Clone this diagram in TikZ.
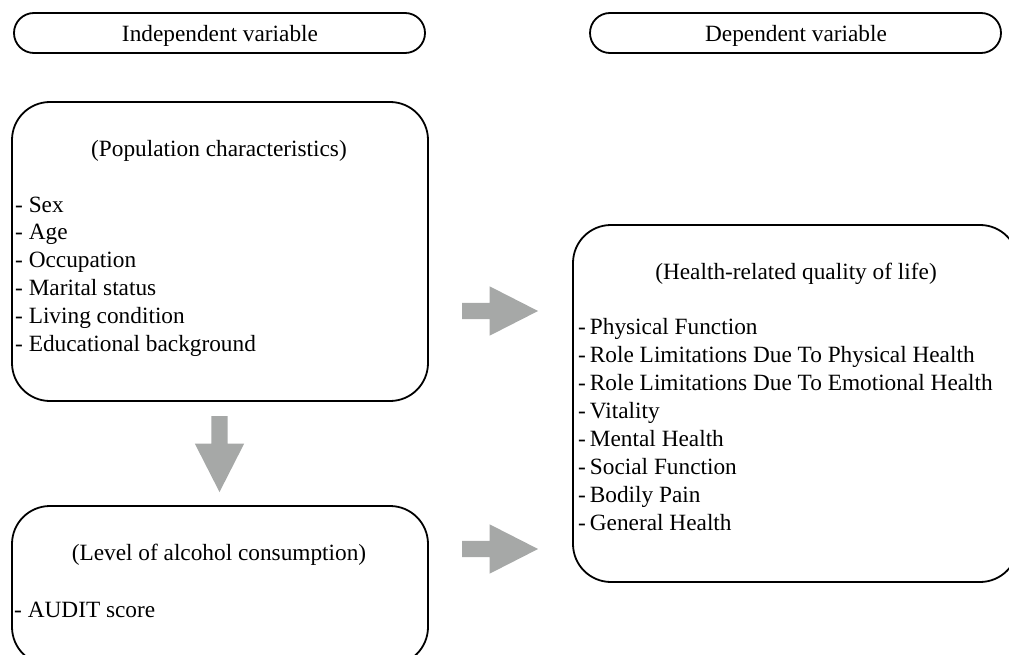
\documentclass[tikz,border=0pt]{standalone}
\usepackage{fontspec}
\setmainfont{Liberation Serif}
\usetikzlibrary{shapes.arrows}
\definecolor{arrowgray}{RGB}{166,168,167}
\tikzset{
	pill/.style={draw, line width=1.8pt, rounded corners=20pt, minimum width=411pt, minimum height=40pt, inner sep=0pt},
	panel/.style={draw, line width=1.8pt, rounded corners=38pt, inner sep=0pt},
	fatarrow/.style={single arrow, fill=arrowgray, inner xsep=0pt, inner ysep=8pt, minimum height=76pt,
		single arrow head extend=16.5pt, single arrow tip angle=54},
	heading/.style={anchor=base, inner sep=0pt},
	listtext/.style={anchor=base west, inner sep=0pt}
}
\begin{document}
\begin{tikzpicture}[x=1pt, y=-1pt, font=\fontsize{23.3}{27.8}\selectfont]
	\useasboundingbox (0,0) rectangle (1009,655);
	\clip (0,0) rectangle (1009,655);
	% headers
	\node[pill] (indep) at (219.5,33) {};
	\node[pill] (dep) at (795.5,33) {};
	\node[heading] (indeptext) at (220,42) {Independent variable};
	\node[heading] (deptext) at (796,42) {Dependent variable};
	% population box
	\node[panel, minimum width=416pt, minimum height=299pt] (popbox) at (220,251.5) {};
	\node[heading] (poptitle) at (219,157) {(Population characteristics)};
	\foreach \trait [count=\i] in {Sex, Age, Occupation, Marital status, Living condition, Educational background}
		\node[listtext] (pop\i) at (15,{212+27.8*(\i-1)}) {- \trait};
	% alcohol box
	\node[panel, minimum width=416pt, minimum height=159pt] (alcbox) at (220,585.5) {};
	\node[heading] (alctitle) at (219,560) {(Level of alcohol consumption)};
	\node[listtext] (alc1) at (14,617) {- AUDIT score};
	% quality of life box
	\node[panel, minimum width=445pt, minimum height=357pt] (qolbox) at (795.5,403.5) {};
	\node[heading] (qoltitle) at (796,279) {(Health-related quality of life)};
	\foreach \trait [count=\i] in {Physical Function, Role Limitations Due To Physical Health,
		Role Limitations Due To Emotional Health, Vitality, Mental Health, Social Function, Bodily Pain, General Health}
		\node[listtext] (qol\i) at (578,{334+28*(\i-1)}) {-\hspace{0.17em}\trait};
	% arrows
	\node[fatarrow, shape border rotate=270, inner xsep=8pt, inner ysep=0pt] (popalc) at (219.5,446) {};
	\node[fatarrow] (popqol) at (492,311) {};
	\node[fatarrow] (alcqol) at (492,549) {};
\end{tikzpicture}
\end{document}
